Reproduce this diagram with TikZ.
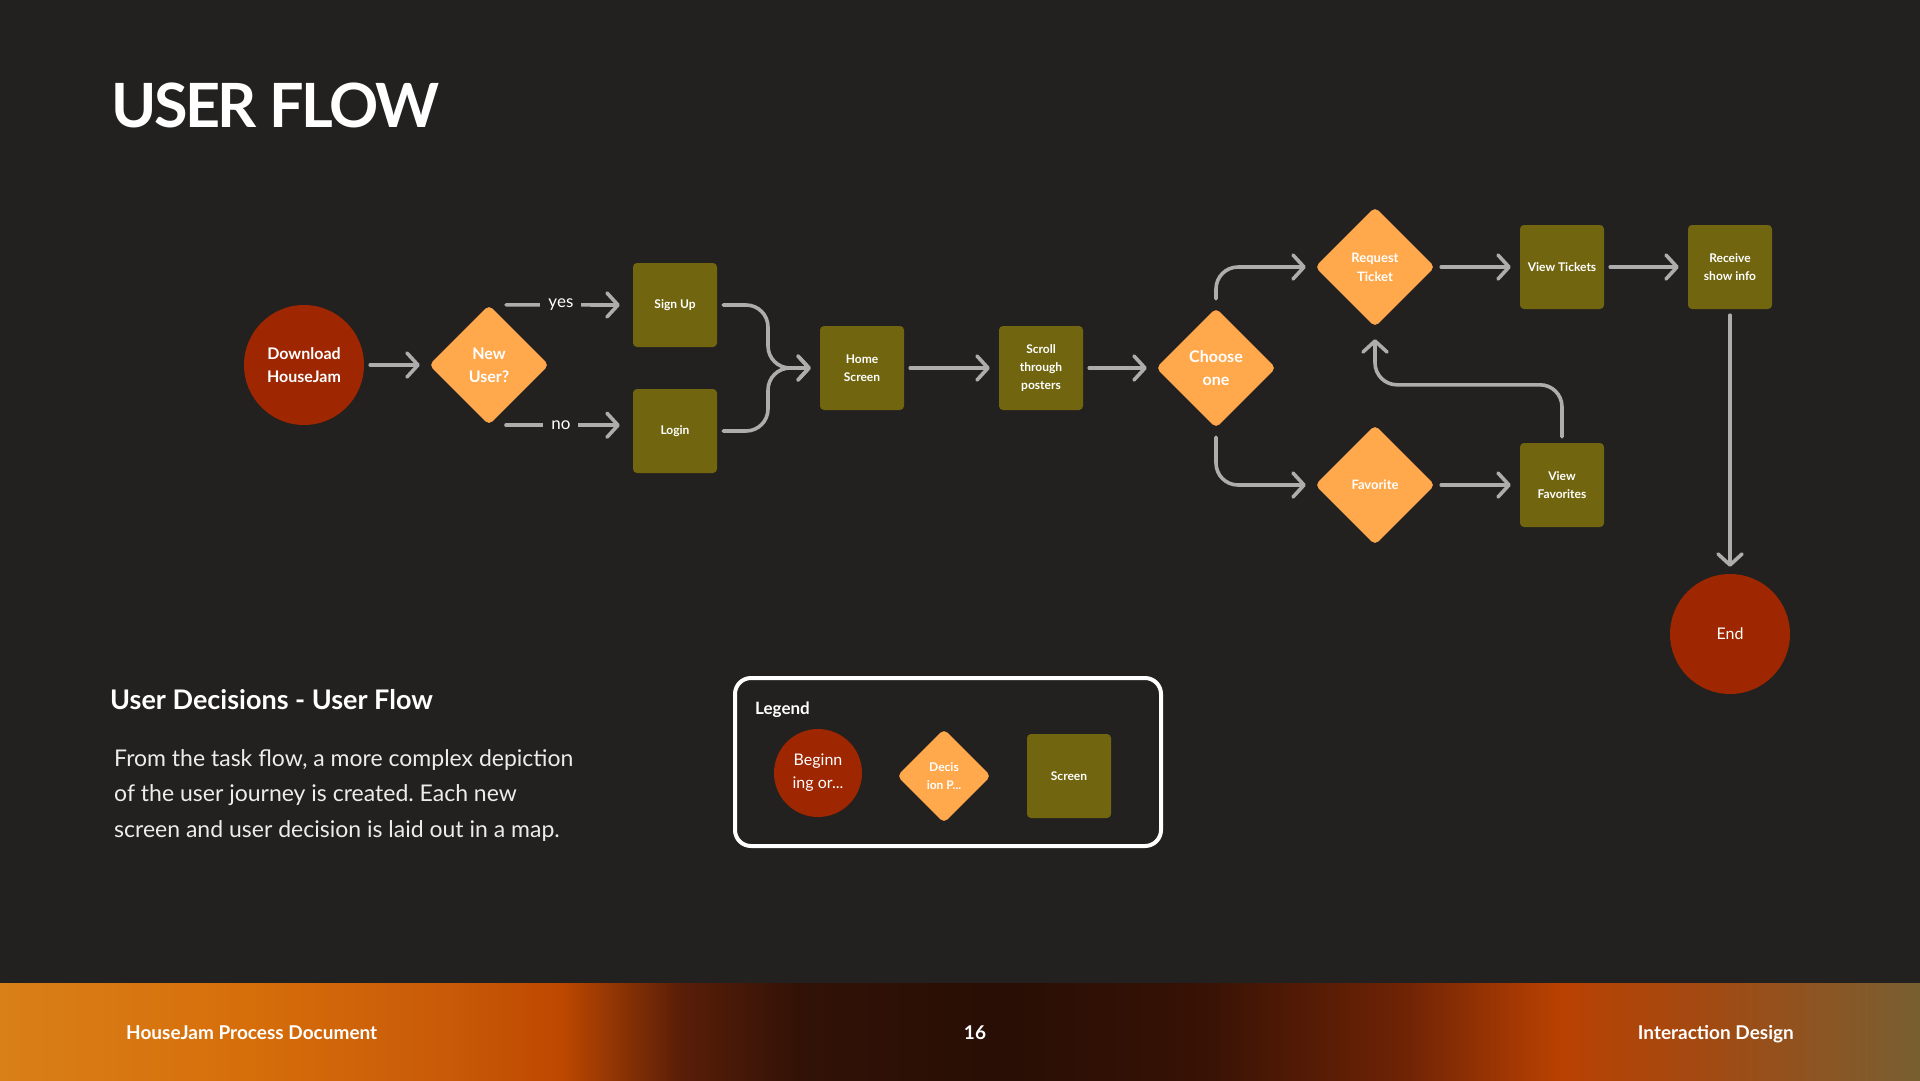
\documentclass[tikz,border=0pt]{standalone}
\usepackage{fontspec}
\setmainfont{Lato}
\frenchspacing
\usetikzlibrary{arrows.meta, shapes.geometric}
\definecolor{bgdark}{RGB}{34,33,31}
\definecolor{beginred}{RGB}{158,38,0}
\definecolor{decisionorange}{RGB}{255,168,76}
\definecolor{screenolive}{RGB}{113,102,15}
\definecolor{linegray}{RGB}{173,173,173}
\definecolor{paratext}{RGB}{236,236,236}
\definecolor{footA}{RGB}{217,128,24}
\definecolor{footB}{RGB}{214,110,10}
\definecolor{footC}{RGB}{200,90,8}
\definecolor{footD}{RGB}{190,72,0}
\definecolor{footE}{RGB}{90,30,8}
\definecolor{footF}{RGB}{50,18,6}
\definecolor{footG}{RGB}{40,14,5}
\definecolor{footH}{RGB}{55,18,5}
\definecolor{footI}{RGB}{110,35,5}
\definecolor{footJ}{RGB}{185,65,2}
\definecolor{footK}{RGB}{160,75,20}
\definecolor{footL}{RGB}{120,95,50}
\pgfdeclarehorizontalshading{footband}{100bp}{color(0bp)=(footA); color(25bp)=(footA);
  color(31.5bp)=(footB); color(36.7bp)=(footC); color(39.6bp)=(footD); color(42.7bp)=(footE);
  color(45.8bp)=(footF); color(51bp)=(footG); color(56.3bp)=(footH); color(61.5bp)=(footI);
  color(65.6bp)=(footJ); color(69.8bp)=(footK); color(75bp)=(footL); color(100bp)=(footL)}

\begin{document}
\begin{tikzpicture}[x=1pt, y=-1pt,
    startend/.style={circle, fill=beginred, minimum size=120pt, inner sep=0pt, text=white,
                     align=center, font=\fontsize{16}{23}\selectfont\bfseries},
    decision/.style={diamond, aspect=1, fill=decisionorange, minimum size=120pt, inner sep=0pt,
                     rounded corners=5pt, text=white, align=center, font=\fontsize{13}{19}\selectfont\bfseries},
    screen/.style={rectangle, fill=screenolive, minimum size=84pt, inner sep=0pt, rounded corners=4pt,
                   text=white, align=center, font=\fontsize{12}{18}\selectfont\bfseries},
    lbl/.style={fill=bgdark, text=white, inner xsep=8pt, inner ysep=2pt, font=\fontsize{17}{17}\selectfont},
    plain/.style={inner sep=0pt, text=white},
    arr/.style={draw=linegray, line width=3.6pt, line cap=round,
                -{Straight Barb[length=11pt,width=24pt,round]}, shorten <=6pt, shorten >=9pt},
    curvearr/.style={arr, rounded corners=22pt}]
    \fill[bgdark] (0,0) rectangle (1920,1080);
    \useasboundingbox (0,0) rectangle (1920,1080);
    \shade[shading=footband] (0,983) rectangle (1920,1080);

    \node[plain, anchor=base west, font=\fontsize{61}{61}\selectfont\bfseries\addfontfeature{LetterSpace=-4}] (title) at (111,127) {USER FLOW};

    \node[startend] (download) at (304,365) {Download\\HouseJam};
    \node[decision, font=\fontsize{16}{23}\selectfont\bfseries] (newuser) at (489,365) {New\\User?};
    \node[screen] (signup) at (675,305) {Sign Up};
    \node[screen] (login) at (675,431) {Login};
    \node[screen] (home) at (862,368) {Home\\Screen};
    \node[screen] (scroll) at (1041,368) {Scroll\\through\\posters};
    \node[decision, font=\fontsize{16}{23}\selectfont\bfseries] (choose) at (1216,368) {Choose\\one};
    \node[decision] (request) at (1375,267) {Request\\Ticket};
    \node[decision] (favorite) at (1375,485) {Favorite};
    \node[screen] (viewtickets) at (1562,267) {View Tickets};
    \node[screen] (receive) at (1730,267) {Receive\\show info};
    \node[screen] (viewfav) at (1562,485) {View\\Favorites};
    \node[startend, font=\fontsize{16}{23}\selectfont] (finish) at (1730,634) {End};
    \coordinate (merge) at (768,368);

    \draw[arr] (download) -- (newuser);
    \draw[arr, shorten <=17pt, shorten >=13pt] (newuser.north) -- node[lbl] {yes} (signup.west);
    \draw[arr, shorten <=17pt, shorten >=13pt] (newuser.south) -- node[lbl] {no} (newuser.south -| login.west);
    \draw[curvearr] (signup.east) -| (merge) -- (home.west);
    \draw[curvearr] (login.east) -| (merge) -- (home.west);
    \draw[arr] (home) -- (scroll);
    \draw[arr] (scroll) -- (choose);
    \draw[curvearr, shorten <=9pt] (choose.north) |- (request.west);
    \draw[curvearr, shorten <=9pt] (choose.south) |- (favorite.west);
    \draw[arr] (request) -- (viewtickets);
    \draw[arr] (viewtickets) -- (receive);
    \draw[arr] (favorite) -- (viewfav);
    \draw[curvearr, shorten >=12pt] (viewfav.north) -- ++(0,-58) -| (request.south);
    \draw[arr, shorten >=7pt] (receive) -- (finish);

    \node[plain, anchor=base west, font=\fontsize{27}{27}\selectfont\bfseries] (subtitle) at (110,709) {User Decisions - User Flow};
    \node[plain, anchor=north west, text=paratext, align=left, font=\fontsize{23}{35.5}\selectfont] (summary) at (114,749)
        {From the task flow, a more complex depiction\\of the user journey is created. Each new\\screen and user decision is laid out in a map.};

    \draw[white, line width=4pt, rounded corners=16pt] (735,678) rectangle (1161,846);
    \node[plain, anchor=base west, font=\fontsize{17}{17}\selectfont\bfseries] (legendtitle) at (755,714) {Legend};
    \node[startend, minimum size=88pt, font=\fontsize{16}{23}\selectfont] (keystart) at (818,773) {Beginn\\ing or...};
    \node[decision, minimum size=94pt, font=\fontsize{12}{18}\selectfont\bfseries] (keydecision) at (944,776) {Decis\\ion P...};
    \node[screen] (keyscreen) at (1069,776) {Screen};

    \node[plain, anchor=base west, font=\fontsize{19}{19}\selectfont\bfseries] (docname) at (126,1039) {HouseJam Process Document};
    \node[plain, anchor=base, font=\fontsize{19}{19}\selectfont\bfseries] (pagenum) at (975,1039) {16};
    \node[plain, anchor=base east, font=\fontsize{19}{19}\selectfont\bfseries] (course) at (1794,1039) {Interaction Design};
\end{tikzpicture}
\end{document}
